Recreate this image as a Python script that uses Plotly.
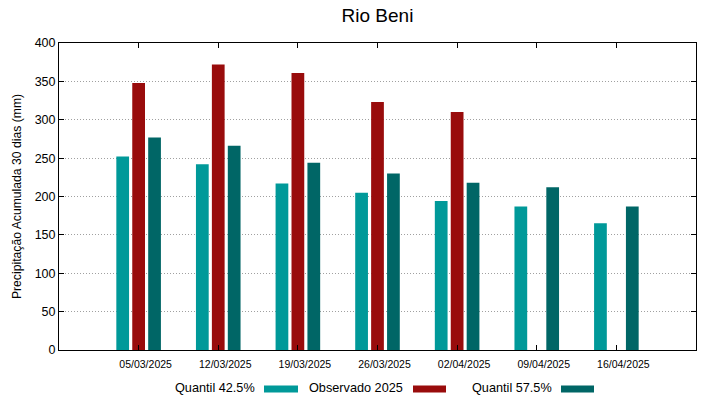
import plotly.graph_objects as go

dates = ["05/03/2025", "12/03/2025", "19/03/2025", "26/03/2025", "02/04/2025", "09/04/2025", "16/04/2025"]
q425 = [252, 242, 217, 205, 194, 187, 165]
obs2025 = [348, 372, 361, 323, 310, None, None]
q575 = [277, 266, 244, 230, 218, 212, 187]

names = ["Quantil 42.5%", "Observado 2025", "Quantil 57.5%"]
colors = ["#009999", "#990c0c", "#006666"]
series = [q425, obs2025, q575]

x = list(range(len(dates)))
fig = go.Figure()
for nm, col, vals in zip(names, colors, series):
    fig.add_trace(go.Bar(x=x, y=vals, name=nm, marker=dict(color=col, line=dict(width=0)),
                         showlegend=False))

font = "Liberation Sans, Arial, sans-serif"
L, R, T, B = 59, 696, 43, 350
fig.update_layout(
    width=719, height=399,
    margin=dict(l=L, r=719 - R, t=T, b=399 - B),
    paper_bgcolor="white", plot_bgcolor="white",
    barmode="group", bargap=0.4, bargroupgap=0.2,
    font=dict(family=font, color="#000000"),
    title=dict(text="Rio Beni", x=(L + R) / 2 / 719, xanchor="center", y=1 - 15.5 / 399, yanchor="middle",
               font=dict(size=19, family=font, color="#000")),
    xaxis=dict(range=[-1, 7], tickvals=x, ticktext=dates, ticks="inside", ticklen=5,
               tickcolor="#000", showline=True, linecolor="#000", linewidth=1, mirror="ticks",
               showgrid=False, zeroline=False, tickfont=dict(size=10.5, family=font),
               ticklabelshift=7, ticklabelstandoff=4),
    yaxis=dict(range=[0, 400], dtick=50, ticks="inside", ticklen=5, tickcolor="#000",
               showline=True, linecolor="#000", linewidth=1, mirror="ticks",
               showgrid=True, gridcolor="#a0a0a0", griddash="1px,2px", gridwidth=1,
               zeroline=False, tickfont=dict(size=12.5, family=font),
               title=dict(text="Precipitação Acumulada 30 dias (mm)", font=dict(size=12.2, family=font),
                          standoff=10)),
)

# gnuplot-style legend: text followed by sample
leg_y = 388
leg = [(257, 264, 298), (405, 413, 446), (554, 561, 594)]
W, H = R - L, B - T
for (tx, sx0, sx1), nm, col in zip(leg, names, colors):
    fig.add_annotation(text=nm, xref="paper", yref="paper",
                       x=(tx - L) / W, y=-(leg_y - B) / H,
                       xanchor="right", yanchor="middle", showarrow=False,
                       font=dict(size=12.7, family=font, color="#000"))
    fig.add_shape(type="line", xref="paper", yref="paper",
                  x0=(sx0 - L) / W, x1=(sx1 - L) / W,
                  y0=-(leg_y + 1 - B) / H, y1=-(leg_y + 1 - B) / H,
                  line=dict(color=col, width=7))

fig.write_html("out.html", config={"displayModeBar": False},
               post_script="document.body.style.margin='0';document.body.style.overflow='hidden';")
